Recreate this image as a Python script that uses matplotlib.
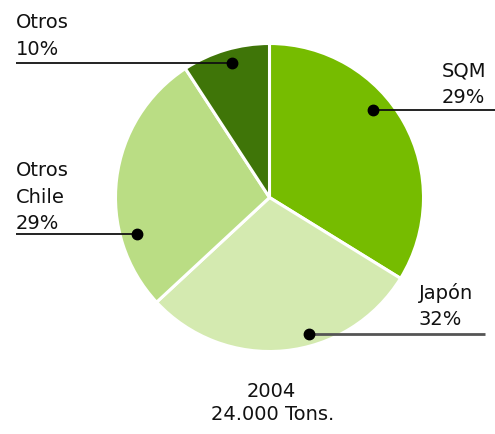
import numpy as np
import matplotlib
matplotlib.use("Agg")
import matplotlib.pyplot as plt

# -------------------------------------------------------
# Data (slice shares, printed labels as shown)
# -------------------------------------------------------

names = ["SQM", "Japón", "Otros\nChile", "Otros"]
shares = [33.8, 29.3, 27.7, 9.2]
printed = ["29%", "32%", "29%", "10%"]
colors = ["#76bc00", "#d4eab0", "#badd84", "#3f7508"]

year = "2004"
total = "24.000 Tons."

# -------------------------------------------------------
# Figure (1 data unit = 1 pixel, y measured from bottom)
# -------------------------------------------------------

W, H = 495, 434
fig = plt.figure(figsize=(W / 100, H / 100), dpi=100)
ax = fig.add_axes([0, 0, 1, 1])

cx, cy, R = 269.5, H - 197.5, 154

ax.pie(
    shares,
    colors=colors,
    startangle=90,
    counterclock=False,
    center=(cx, cy),
    radius=R,
    frame=True,
    wedgeprops=dict(edgecolor="white", linewidth=2.2),
)
ax.set_xlim(0, W)
ax.set_ylim(0, H)
ax.set_aspect("equal")
ax.axis("off")

font = dict(family=["DejaVu Sans"], fontsize=14, color="#111111")

# label layout: dot angle (deg), dot radius fraction, line end x, text x, gap above line
layout = [
    (40.3, 0.88, W, 442, 7),
    (-73.8, 0.92, 485, 419, 8.5),
    (195.4, 0.89, 16, 16, 4.5),
    (105.7, 0.905, 16, 16, 8.5),
]
line_colors = ["#111111", "#555555", "#111111", "#111111"]
line_widths = [1.3, 2.0, 1.3, 1.3]

for name, pct, (ang, frac, x_end, tx, gap), lc, lw in zip(
    names, printed, layout, line_colors, line_widths
):
    dx = cx + frac * R * np.cos(np.radians(ang))
    dy = cy + frac * R * np.sin(np.radians(ang))
    ax.plot([dx, x_end], [dy, dy], color=lc, lw=lw, solid_capstyle="butt", zorder=3)
    ax.plot(dx, dy, "o", color="black", markersize=7.5, zorder=4)
    lines = name.split("\n") + [pct]
    base = dy + gap
    for i, t in enumerate(reversed(lines)):
        ax.text(tx, base + i * 26.5, t, ha="left", va="baseline", **font)

ax.text(cx + 2, H - 397, year, ha="center", va="baseline", **font)
ax.text(cx + 3, H - 420, total, ha="center", va="baseline", **font)

fig.savefig("out.png", dpi=100)
